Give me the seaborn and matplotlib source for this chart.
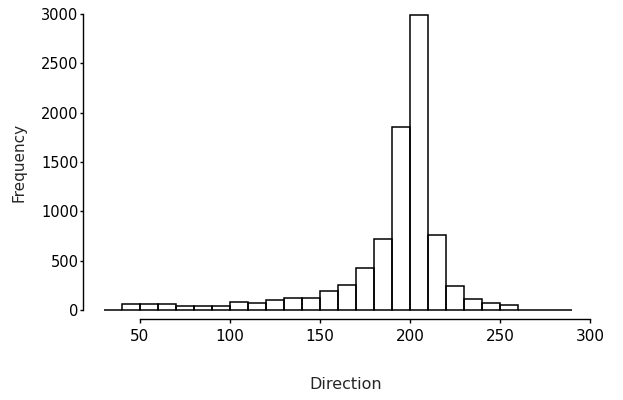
import numpy as np
import pandas as pd
import matplotlib
matplotlib.use('Agg')
import matplotlib.pyplot as plt
import seaborn as sns

# bin starts (width 10) and counts
direction = [30, 40, 50, 60, 70, 80, 90, 100, 110, 120, 130, 140, 150,
             160, 170, 180, 190, 200, 210, 220, 230, 240, 250, 260, 270, 280]
frequency = [0, 61, 56, 61, 39, 44, 37, 83, 74, 101, 122, 122, 192,
             253, 429, 723, 1850, 2990, 765, 245, 108, 67, 54, 3, 2, 2]
bin_edges = direction + [290]

df = pd.DataFrame({'Direction': [d + 5 for d in direction], 'Frequency': frequency})

sns.set_style('ticks')
plt.rcParams['font.family'] = ['DejaVu Sans']

fig = plt.figure(figsize=(6.23, 4.0), dpi=100)
ax = fig.add_axes([0.1637, 0.2225, 0.7833, 0.745])

sns.histplot(data=df, x='Direction', weights='Frequency', bins=bin_edges,
             fill=False, color='black', linewidth=1.1, ax=ax)
for p in ax.patches:
    p.set_clip_on(False)

ax.set_xlim(29, 300)
ax.set_ylim(-10, 3010)
ax.set_xticks([50, 100, 150, 200, 250, 300])
ax.set_yticks([0, 500, 1000, 1500, 2000, 2500, 3000])

sns.despine(ax=ax)
ax.spines['left'].set_position(('outward', 13.5))
ax.spines['left'].set_bounds(0, 3000)
ax.spines['bottom'].set_position(('outward', 6))
ax.spines['bottom'].set_bounds(50, 300)
for s in ('left', 'bottom'):
    ax.spines[s].set_linewidth(1.0)
    ax.spines[s].set_color('black')

ax.tick_params(axis='y', direction='out', length=2.5, width=1.0, pad=1,
               labelsize=10.5, colors='black')
ax.tick_params(axis='x', direction='out', length=3, width=1.0, pad=4,
               labelsize=11, colors='black')

ax.set_xlabel('Direction', fontsize=11.5, labelpad=24)
ax.set_ylabel('Frequency', fontsize=11, labelpad=10)

fig.savefig('out.png', dpi=100)
